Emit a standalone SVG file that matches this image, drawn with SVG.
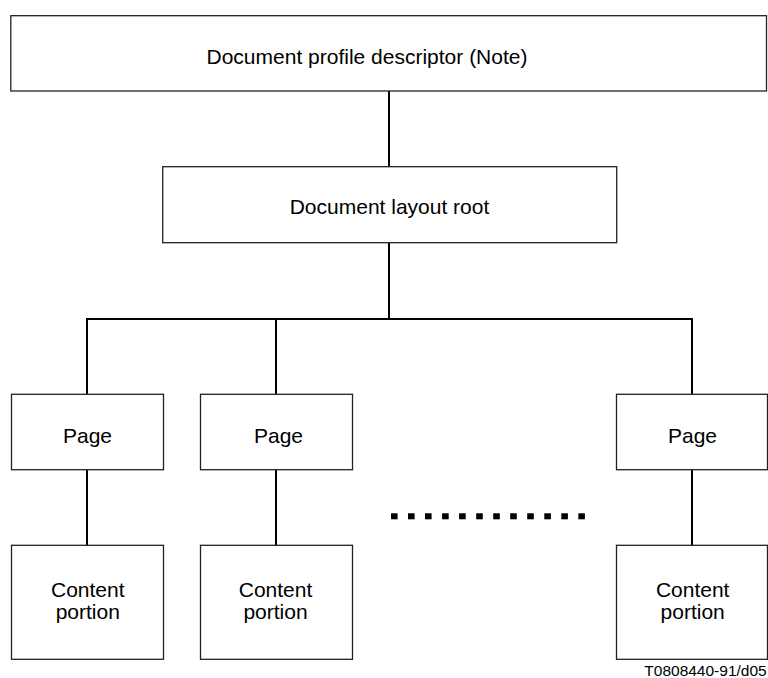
<svg xmlns="http://www.w3.org/2000/svg" width="768" height="678" viewBox="0 0 768 678">
<style>
.box{fill:#fff;stroke:#222;stroke-width:1.3}
.t{font-family:"Liberation Sans",Arial,sans-serif;font-size:21px;fill:#000;text-anchor:middle}
.c{fill:none;stroke:#000;stroke-width:2;stroke-linejoin:miter}
.dot{fill:#000}
</style>
<rect width="768" height="678" fill="#fff"/>
<g id="connectors">
<path class="c" d="M389,91 V166.7"/>
<path class="c" d="M389,242.7 V319"/>
<path class="c" d="M87,394.3 V319 H692 V394.3"/>
<path class="c" d="M276,319 V394.3"/>
<path class="c" d="M87,469.7 V545.3"/>
<path class="c" d="M276,469.7 V545.3"/>
<path class="c" d="M692,469.7 V545.3"/>
</g>
<g id="dpd">
<rect class="box" x="10.8" y="15.7" width="755.7" height="75.3"/>
<text class="t" x="367" y="64.3">Document profile descriptor (Note)</text>
</g>
<g id="layout-root">
<rect class="box" x="162.7" y="166.7" width="454" height="76"/>
<text class="t" x="389.5" y="214">Document layout root</text>
</g>
<g id="page1">
<rect class="box" x="11.5" y="394.3" width="152" height="75.4"/>
<text class="t" x="87.5" y="443.3">Page</text>
</g>
<g id="page2">
<rect class="box" x="200.5" y="394.3" width="152" height="75.4"/>
<text class="t" x="278.5" y="443.3">Page</text>
</g>
<g id="page3">
<rect class="box" x="616.5" y="394.3" width="151" height="75.4"/>
<text class="t" x="692.5" y="442.5">Page</text>
</g>
<g id="content1">
<rect class="box" x="11.5" y="545.3" width="152" height="114"/>
<text class="t" x="87.8" y="596.7">Content</text>
<text class="t" x="87.8" y="619">portion</text>
</g>
<g id="content2">
<rect class="box" x="200.5" y="545.3" width="152" height="114"/>
<text class="t" x="275.5" y="596.7">Content</text>
<text class="t" x="275.5" y="619">portion</text>
</g>
<g id="content3">
<rect class="box" x="616.5" y="545.3" width="151" height="114"/>
<text class="t" x="692.7" y="596.7">Content</text>
<text class="t" x="692.7" y="619">portion</text>
</g>
<g id="ellipsis">
<rect class="dot" x="391" y="513.3" width="6.6" height="6"/>
<rect class="dot" x="408" y="513.3" width="6.6" height="6"/>
<rect class="dot" x="425" y="513.3" width="6.6" height="6"/>
<rect class="dot" x="442.1" y="513.3" width="6.6" height="6"/>
<rect class="dot" x="459.1" y="513.3" width="6.6" height="6"/>
<rect class="dot" x="476.2" y="513.3" width="6.6" height="6"/>
<rect class="dot" x="493.2" y="513.3" width="6.6" height="6"/>
<rect class="dot" x="510.2" y="513.3" width="6.6" height="6"/>
<rect class="dot" x="527.2" y="513.3" width="6.6" height="6"/>
<rect class="dot" x="544.3" y="513.3" width="6.6" height="6"/>
<rect class="dot" x="561.3" y="513.3" width="6.6" height="6"/>
<rect class="dot" x="578.3" y="513.3" width="6.6" height="6"/>
</g>
<text x="766.7" y="676" font-family="'Liberation Sans',Arial,sans-serif" font-size="15.5" text-anchor="end" fill="#000">T0808440-91/d05</text>
</svg>
